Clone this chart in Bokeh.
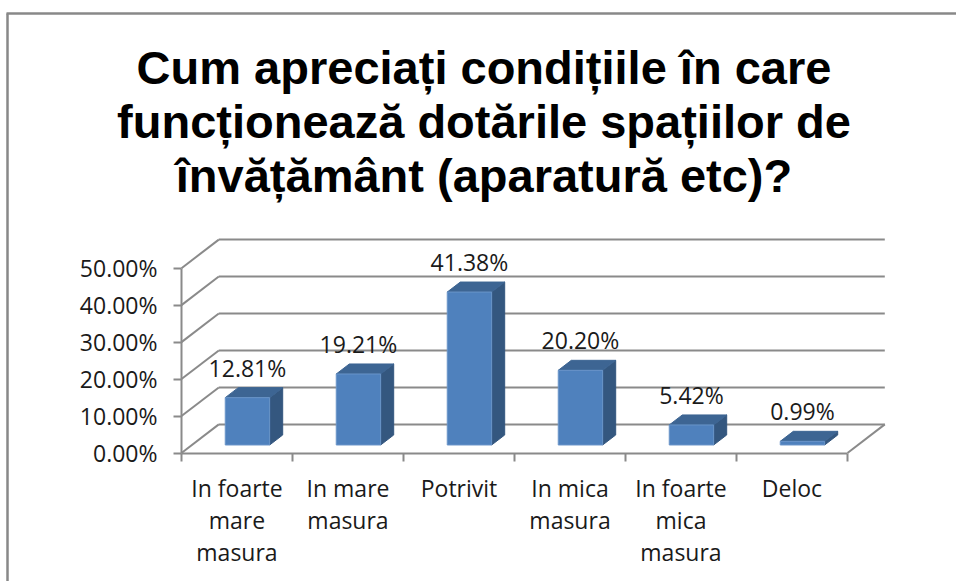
from bokeh.plotting import figure
from bokeh.models import Range1d, FixedTicker, LinearAxis
from bokeh.core.properties import value
from bokeh.embed import file_html
from bokeh.resources import INLINE

# ---------------- data ----------------
title_lines = [
    "Cum apreciați condițiile în care",
    "funcționează dotările spațiilor de",
    "învățământ (aparatură etc)?",
]
categories = [
    "In foarte\nmare\nmasura",
    "In mare\nmasura",
    "Potrivit",
    "In mica\nmasura",
    "In foarte\nmica\nmasura",
    "Deloc",
]
values = [12.81, 19.21, 41.38, 20.20, 5.42, 0.99]
data_labels = ["12.81%", "19.21%", "41.38%", "20.20%", "5.42%", "0.99%"]
y_ticks = [0, 10, 20, 30, 40, 50]
y_tick_labels = ["0.00%", "10.00%", "20.00%", "30.00%", "40.00%", "50.00%"]

# ---------------- geometry ----------------
W, H = 956, 581
SX = 111.0          # px per category
SY = 3.696          # px per percent
X0_PX = 181.0       # px of category 0 edge
Y0_PX = 452.5       # px of value 0
xmin = -X0_PX / SX
xmax = xmin + W / SX
ymax = Y0_PX / SY
ymin = ymax - H / SY


def px_x(px):
    return xmin + px / SX


def px_y(py):
    return ymax - py / SY


DX = 37.3 / SX      # depth offset (category units)
DY = 28.6 / SY      # depth offset (percent units)
D_FRONT, D_BACK = 0.28, 0.63
BW = 0.4
N = len(categories)

GRID = "#8a8a8a"
FRONT = "#4f81bd"
TOP = "#3d6593"
SIDE = "#34577f"
TXT = "#1a1a1a"

p = figure(width=W, height=H, x_range=Range1d(xmin, xmax), y_range=Range1d(ymin, ymax),
           output_backend="svg", toolbar_location=None, min_border=0,
           x_axis_location=None, y_axis_location=None,
           background_fill_color="white", border_fill_color="white",
           outline_line_color=None)
p.xgrid.visible = False
p.ygrid.visible = False

# outer chart border (top and left)
p.segment(x0=[px_x(6), px_x(7)], y0=[px_y(13), px_y(13)], x1=[xmax, px_x(7)], y1=[px_y(13), ymin],
          line_color="#888888", line_width=2.5)

# back wall gridlines + side diagonals
p.segment(x0=[DX] * len(y_ticks), y0=[t + DY for t in y_ticks],
          x1=[N + DX] * len(y_ticks), y1=[t + DY for t in y_ticks],
          line_color=GRID, line_width=2)
p.segment(x0=[0] * len(y_ticks), y0=y_ticks, x1=[DX] * len(y_ticks), y1=[t + DY for t in y_ticks],
          line_color=GRID, line_width=2)
# floor right edge
p.segment(x0=[N], y0=[0], x1=[N + DX], y1=[DY], line_color=GRID, line_width=2)

# bars (3 faces each)
fx, fy, tx, ty, sx, sy = [], [], [], [], [], []
for i, v in enumerate(values):
    l = i + 0.5 - BW / 2 + D_FRONT * DX
    r = l + BW
    b = D_FRONT * DY
    t = v + b
    ddx = (D_BACK - D_FRONT) * DX
    ddy = (D_BACK - D_FRONT) * DY
    fx.append([l, r, r, l]); fy.append([b, b, t, t])
    tx.append([l, r, r + ddx, l + ddx]); ty.append([t, t, t + ddy, t + ddy])
    sx.append([r, r + ddx, r + ddx, r]); sy.append([b, b + ddy, t + ddy, t])
p.patches(xs=sx, ys=sy, fill_color=SIDE, line_color=SIDE, line_width=1)
p.patches(xs=tx, ys=ty, fill_color=TOP, line_color=TOP, line_width=1)
p.patches(xs=fx, ys=fy, fill_color=FRONT, line_color="#6a95c9", line_width=1)

# data labels
p.text(x=[i + 0.5 + D_FRONT * DX for i in range(N)], y=[v + D_FRONT * DY for v in values],
       text=data_labels, text_align="center", text_baseline="alphabetic", y_offset=-30,
       text_font=value("Open Sans"), text_font_size="23px", text_color=TXT)

# category labels
p.text(x=[i + 0.5 for i in range(N)], y=[px_y(Y0_PX + 19)] * N, text=categories,
       text_align="center", text_baseline="top", text_line_height=1.0,
       text_font=value("Open Sans"), text_font_size="23px", text_color=TXT)

# title
title_baselines = [67, 121, 175]
p.text(x=[px_x(483.5)] * 3, y=[px_y(b) for b in title_baselines], text=title_lines,
       text_align="center", text_baseline="alphabetic",
       text_font=value("Liberation Sans"), text_font_style="bold", text_font_size="47px",
       text_color="black")

# axes
yaxis = LinearAxis(ticker=FixedTicker(ticks=y_ticks), fixed_location=0, bounds=(0, 50),
                   major_label_overrides={t: s for t, s in zip(y_ticks, y_tick_labels)},
                   major_tick_out=8, major_tick_in=0, minor_tick_out=0, minor_tick_in=0,
                   major_label_standoff=16, axis_line_color=GRID, axis_line_width=2,
                   major_tick_line_color=GRID, major_tick_line_width=2,
                   major_label_text_font="Open Sans", major_label_text_font_size="23px",
                   major_label_text_color=TXT)
p.add_layout(yaxis, "left")
xticks = list(range(N + 1))
xaxis = LinearAxis(ticker=FixedTicker(ticks=xticks), fixed_location=0, bounds=(0, N),
                   major_label_overrides={t: "" for t in xticks},
                   major_tick_out=8, major_tick_in=0, minor_tick_out=0, minor_tick_in=0,
                   axis_line_color=GRID, axis_line_width=2,
                   major_tick_line_color=GRID, major_tick_line_width=2)
p.add_layout(xaxis, "below")

open("out.html", "w").write(file_html(p, INLINE))
